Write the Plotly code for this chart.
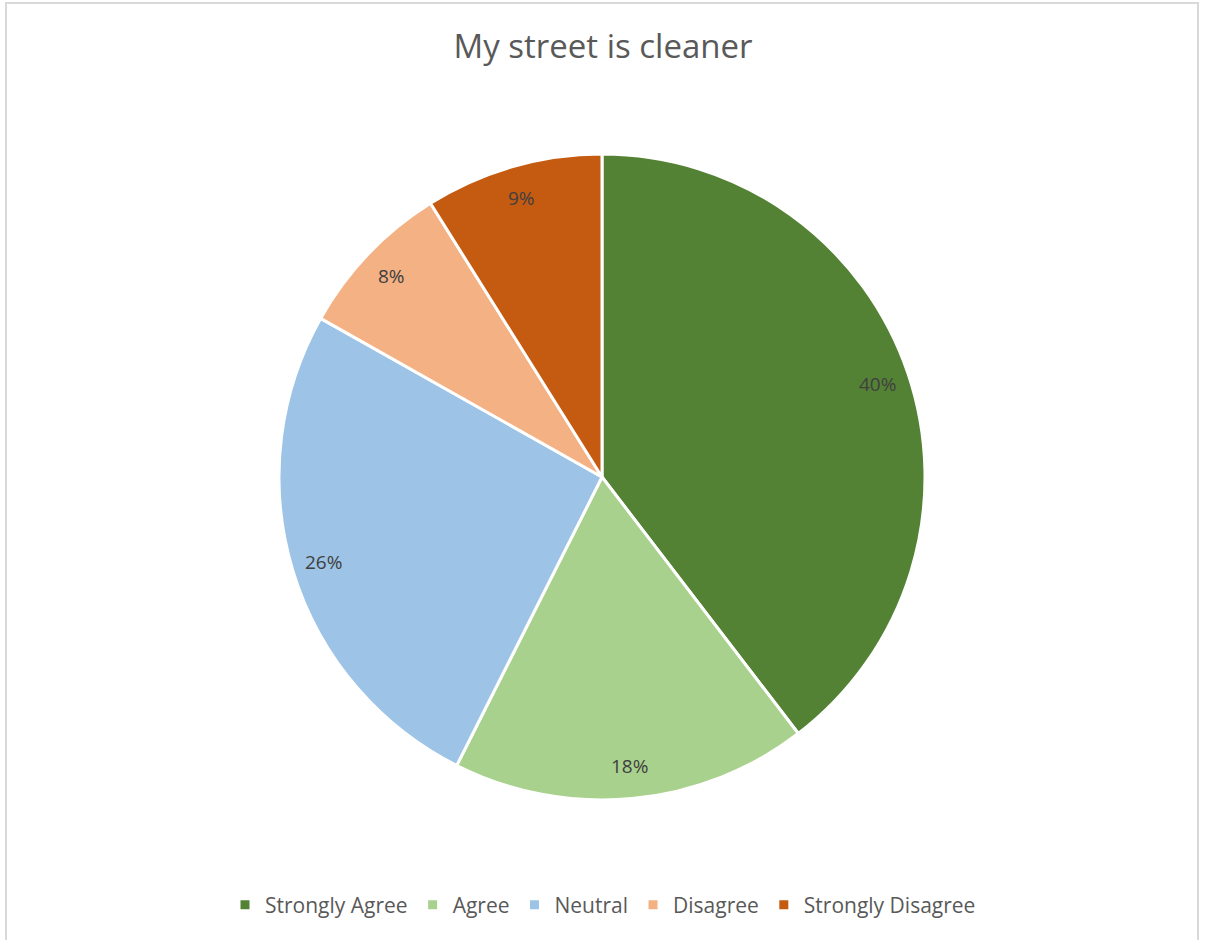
import math
import plotly.graph_objects as go

categories = ["Strongly Agree", "Agree", "Neutral", "Disagree", "Strongly Disagree"]
values = [40, 18, 26, 8, 9]
colors = ["#548235", "#A9D18E", "#9DC3E6", "#F4B183", "#C55A11"]

W, H = 1206, 940
cx, cy, R = 602, 477, 323  # pie centre and radius in px

dom_x = [(cx - R) / W, (cx + R) / W]
dom_y = [1 - (cy + R) / H, 1 - (cy - R) / H]

fig = go.Figure(go.Pie(
    labels=categories,
    values=values,
    sort=False,
    direction="clockwise",
    rotation=0,
    marker=dict(colors=colors, line=dict(color="white", width=3)),
    textinfo="none",
    hoverinfo="label+percent",
    domain=dict(x=dom_x, y=dom_y),
))

# Percentage labels placed inside each slice, near the rim
total = sum(values)
annotations = []
cum = 0
for v in values:
    mid = (cum + v / 2) / total * 2 * math.pi
    cum += v
    r = 0.9 * R
    px = cx + r * math.sin(mid)
    py = cy - r * math.cos(mid)
    annotations.append(dict(
        x=px / W, y=1 - py / H, xref="paper", yref="paper",
        text=f"{round(v / total * 100)}%", showarrow=False,
        font=dict(family="Open Sans", size=19, color="#404040"),
        xanchor="center", yanchor="middle",
    ))

fig.update_layout(
    width=W, height=H,
    margin=dict(l=0, r=0, t=0, b=0),
    paper_bgcolor="white",
    plot_bgcolor="white",
    title=dict(
        text="My street is cleaner",
        x=0.5, xanchor="center", y=1 - 46 / H, yanchor="middle",
        font=dict(family="Open Sans", size=33, color="#595959"),
    ),
    legend=dict(
        orientation="h", x=0.5, xanchor="center", y=1 - 905 / H, yanchor="middle",
        font=dict(family="Open Sans", size=21, color="#595959"),
        itemwidth=30,
    ),
    annotations=annotations,
    shapes=[dict(
        type="rect", xref="paper", yref="paper",
        x0=6 / W, x1=1198 / W, y0=-0.01, y1=1 - 3 / H,
        line=dict(color="#D9D9D9", width=2),
    )],
)

fig.write_html("out.html")
